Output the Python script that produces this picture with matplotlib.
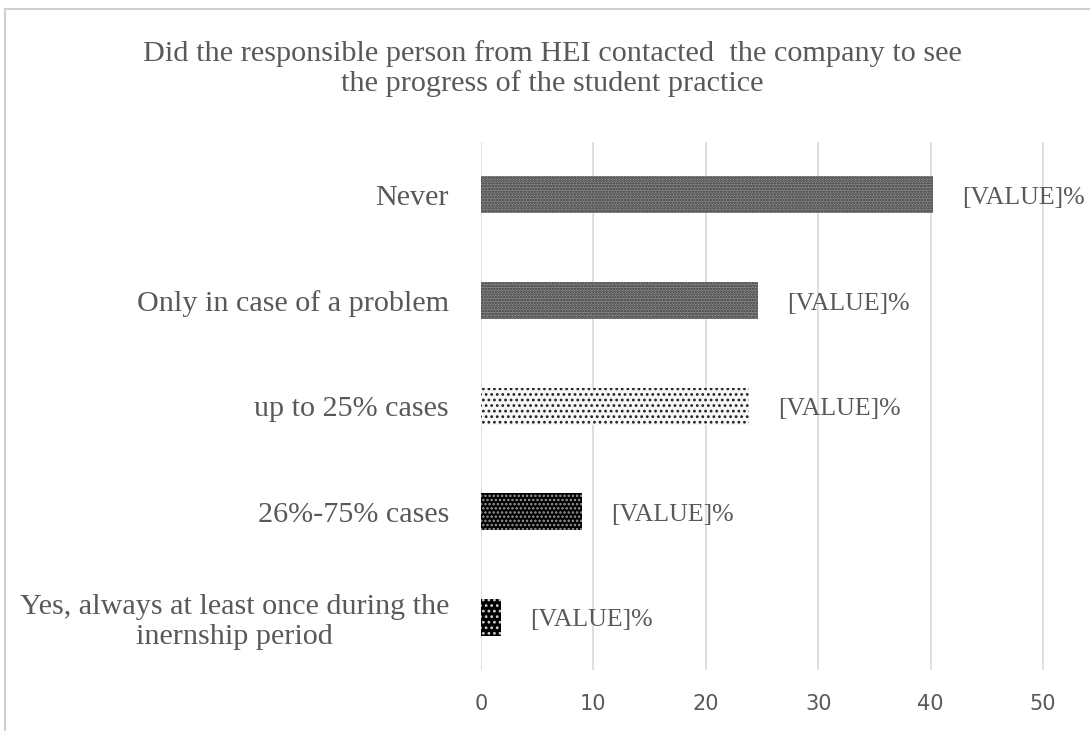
import matplotlib
matplotlib.use("Agg")
import matplotlib.pyplot as plt
from matplotlib.patches import Rectangle

categories = ["Never", "Only in case of a problem", "up to 25% cases", "26%-75% cases",
              "Yes, always at least once during the\ninernship period"]
values = [40.2, 24.6, 23.8, 9.0, 1.8]
value_labels = ["[VALUE]%"] * 5
xticks = [0, 10, 20, 30, 40, 50]
title = "Did the responsible person from HEI contacted  the company to see\nthe progress of the student practice"

plt.rcParams['hatch.linewidth'] = 1.2
fig = plt.figure(figsize=(10.9, 7.31), dpi=100)
fig.patches.append(Rectangle((0.005, -0.01), 1.0, 0.998, transform=fig.transFigure,
                             fill=False, edgecolor="#d0d0d0", linewidth=1.5))
ax = fig.add_axes([0.4413, 0.0834, 0.5587, 0.7223])

styles = [
    dict(facecolor="#8a8a8a", hatch="......", edgecolor="#3a3a3a"),
    dict(facecolor="#8a8a8a", hatch="......", edgecolor="#3a3a3a"),
    dict(facecolor="#f6f6f6", hatch="...", edgecolor="#202020"),
    dict(facecolor="#000000", hatch="....", edgecolor="#9a9a9a"),
    dict(facecolor="#000000", hatch="...", edgecolor="#d0d0d0"),
]
ypos = list(range(len(categories)))[::-1]
for y, v, st, lab in zip(ypos, values, styles, value_labels):
    ax.barh(y, v, height=0.35, linewidth=0, zorder=3, **st)
    ax.text(v + 2.6, y - 0.03, lab, va="center", ha="left", fontsize=18.5,
            family="Liberation Serif", color="#595959")

ax.set_xlim(0, 54.18)
ax.set_ylim(-0.5, 4.5)
ax.set_xticks(xticks)
ax.set_yticks(ypos)
ax.set_yticklabels(categories, family="Liberation Serif", fontsize=21.7, color="#595959",
                   linespacing=1.2, multialignment="center")
for t in ax.get_xticklabels():
    t.set_fontsize(15)
    t.set_color("#595959")
ax.tick_params(axis="both", length=0)
ax.tick_params(axis="x", pad=17)
ax.tick_params(axis="y", pad=23)
ax.grid(axis="x", color="#d9d9d9", linewidth=1.2, zorder=0)
for s in ax.spines.values():
    s.set_visible(False)

fig.text(0.507, 0.906, title, ha="center", va="center", fontsize=21.8,
         family="Liberation Serif", color="#595959", linespacing=1.12)

fig.savefig("out.png", dpi=100)
